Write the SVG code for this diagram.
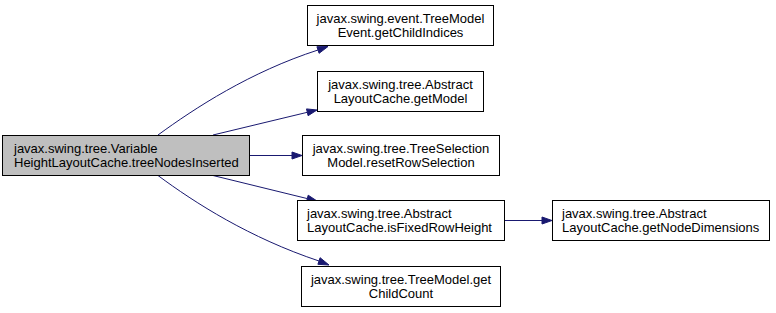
<svg xmlns="http://www.w3.org/2000/svg" width="776" height="313" viewBox="0 0 776 313">
  <style>
    .node rect { fill: #ffffff; stroke: #000000; stroke-width: 1; }
    .node.root rect { fill: #bfbfbf; }
    .node text { font-family: "Liberation Sans", Arial, sans-serif; font-size: 13px; fill: #000000; }
    .c { text-anchor: middle; }
    .edge path { fill: none; stroke: #191970; stroke-width: 1; }
    .edge polygon { fill: #191970; stroke: #191970; stroke-width: 1; }
  </style>
  <rect width="776" height="313" fill="#ffffff"/>

  <g id="edges">
    <g class="edge">
      <path d="M158,135 C195,108 250,72 318,50"/>
      <polygon points="319.1,53.3 328,46.5 316.9,46.7"/>
    </g>
    <g class="edge">
      <path d="M213,135 L307.3,112.3"/>
      <polygon points="308.1,115.7 317,110 306.5,108.9"/>
    </g>
    <g class="edge">
      <path d="M249.5,155.5 L292,155.5"/>
      <polygon points="292,152 302,155.5 292,159"/>
    </g>
    <g class="edge">
      <path d="M213,175.5 L307.3,198.6"/>
      <polygon points="306.4,202 317,201 308.2,195.2"/>
    </g>
    <g class="edge">
      <path d="M158,175.5 C195,203 250,238 319,261"/>
      <polygon points="317.9,264.3 329,265 320.1,257.7"/>
    </g>
    <g class="edge">
      <path d="M505,220.5 L542,220.5"/>
      <polygon points="542,217 552,220.5 542,224"/>
    </g>
  </g>

  <g id="node-treeNodesInserted" class="node root">
    <rect x="2.5" y="135.5" width="247" height="40"/>
    <text x="14" y="153">javax.swing.tree.Variable</text>
    <text x="14" y="167">HeightLayoutCache.treeNodesInserted</text>
  </g>

  <g id="node-getChildIndices" class="node">
    <rect x="307.5" y="5.5" width="186" height="40"/>
    <text class="c" x="400.5" y="23">javax.swing.event.TreeModel</text>
    <text class="c" x="400.5" y="37">Event.getChildIndices</text>
  </g>

  <g id="node-getModel" class="node">
    <rect x="317.5" y="71.5" width="166" height="40"/>
    <text class="c" x="400.5" y="89">javax.swing.tree.Abstract</text>
    <text class="c" x="400.5" y="103">LayoutCache.getModel</text>
  </g>

  <g id="node-resetRowSelection" class="node">
    <rect x="302.5" y="135.5" width="197" height="40"/>
    <text class="c" x="401" y="153">javax.swing.tree.TreeSelection</text>
    <text class="c" x="401" y="167">Model.resetRowSelection</text>
  </g>

  <g id="node-isFixedRowHeight" class="node">
    <rect x="297.5" y="200.5" width="207" height="40"/>
    <text x="307" y="218">javax.swing.tree.Abstract</text>
    <text x="307" y="232">LayoutCache.isFixedRowHeight</text>
  </g>

  <g id="node-getChildCount" class="node">
    <rect x="301.5" y="266.5" width="199" height="40"/>
    <text class="c" x="401" y="284">javax.swing.tree.TreeModel.get</text>
    <text class="c" x="401" y="298">ChildCount</text>
  </g>

  <g id="node-getNodeDimensions" class="node">
    <rect x="552.5" y="200.5" width="217" height="40"/>
    <text x="562" y="218">javax.swing.tree.Abstract</text>
    <text x="562" y="232">LayoutCache.getNodeDimensions</text>
  </g>
</svg>
